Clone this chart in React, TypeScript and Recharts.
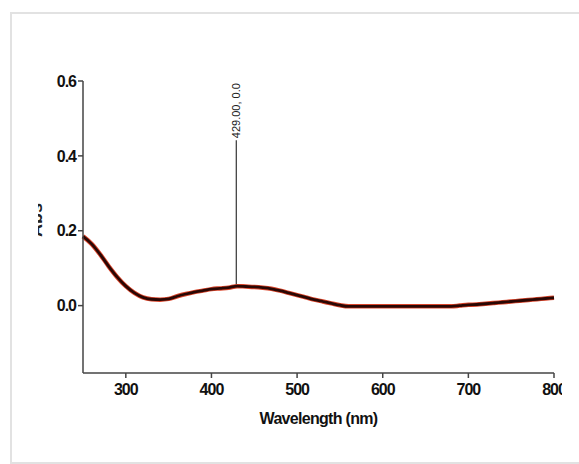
import {
  LineChart,
  Line,
  XAxis,
  YAxis,
  ReferenceLine,
} from "recharts";

// Absorbance spectrum (nm -> Abs)
const WAVELENGTHS = [
  250, 260, 270, 280, 290, 300, 310, 320, 330, 340, 350, 360, 370, 380, 390,
  400, 410, 420, 430, 440, 450, 460, 470, 480, 490, 500, 510, 520, 530, 540,
  550, 560, 570, 580, 590, 600, 610, 620, 630, 640, 650, 660, 670, 680, 690,
  700, 710, 720, 730, 740, 750, 760, 770, 780, 790, 800,
];
const ABSORBANCE = [
  0.185, 0.165, 0.137, 0.105, 0.076, 0.052, 0.034, 0.022, 0.017, 0.016, 0.018,
  0.025, 0.031, 0.036, 0.04, 0.044, 0.046, 0.048, 0.052, 0.051, 0.05, 0.048,
  0.045, 0.04, 0.034, 0.028, 0.022, 0.016, 0.011, 0.006, 0.001, -0.002,
  -0.002, -0.002, -0.002, -0.002, -0.002, -0.002, -0.002, -0.002, -0.002,
  -0.002, -0.002, -0.002, 0.0, 0.002, 0.003, 0.005, 0.007, 0.009, 0.011,
  0.013, 0.015, 0.017, 0.019, 0.021,
];
const X_TICKS = [300, 400, 500, 600, 700, 800];
const Y_TICKS = [0, 0.2, 0.4, 0.6];

const PEAK_X = 429;
const PEAK_Y = 0.052;
const PEAK_TOP = 0.442;
const PEAK_LABEL = "429.00, 0.0";

const data = WAVELENGTHS.map((w, i) => ({ w, abs: ABSORBANCE[i] }));

const FONT = '"Liberation Sans", Arial, sans-serif';

function PeakLabel(props: any) {
  const vb = props.viewBox || {};
  const x = vb.x ?? 0;
  const y = vb.y ?? 0;
  return (
    <text
      x={x}
      y={y - 2}
      transform={`rotate(-90 ${x} ${y - 2})`}
      textAnchor="start"
      dominantBaseline="central"
      fontFamily={FONT}
      fontSize={11}
      fill="#222"
    >
      {PEAK_LABEL}
    </text>
  );
}

function YLabel() {
  // the y title is mostly cut off in the scan, only a sliver shows
  return (
    <g>
      <defs>
        <clipPath id="ylab-clip">
          <rect x={38} y={200} width={5} height={40} />
        </clipPath>
      </defs>
      <g clipPath="url(#ylab-clip)">
        <text
          transform="translate(42 220) rotate(-90)"
          x={0}
          y={0}
          textAnchor="middle"
          fontFamily={FONT}
          fontWeight="bold"
          fontSize={18}
          fill="#222"
        >
          Abs
        </text>
      </g>
    </g>
  );
}

export default function App() {
  return (
    <div
      style={{
        position: "fixed",
        left: 0,
        top: 0,
        width: 579,
        height: 464,
        background: "#fff",
        overflow: "hidden",
      }}
    >
      <div
        style={{
          position: "absolute",
          left: 10,
          top: 12,
          width: 600,
          height: 448,
          border: "2px solid #e2e2e2",
        }}
      />
      <div
        style={{
          position: "absolute",
          left: 0,
          top: 0,
          width: 562,
          height: 464,
          overflow: "hidden",
        }}
      >
        <LineChart
          width={579}
          height={464}
          data={data}
          margin={{ top: 81, right: 25, bottom: 31, left: 23 }}
          style={{ fontFamily: FONT }}
        >
          <XAxis
            dataKey="w"
            type="number"
            domain={[250, 800]}
            ticks={X_TICKS}
            height={60}
            stroke="#444"
            strokeWidth={1.5}
            tickSize={5}
            tick={{
              fill: "#111",
              fontSize: 16,
              fontWeight: "bold",
              letterSpacing: -1,
              dy: 4,
            }}
            label={{
              value: "Wavelength (nm)",
              position: "insideBottom",
              offset: 9,
              fill: "#111",
              fontSize: 16,
              fontWeight: "bold",
              letterSpacing: -0.7,
            }}
          />
          <YAxis
            type="number"
            domain={[-0.18, 0.6]}
            ticks={Y_TICKS}
            width={60}
            stroke="#444"
            strokeWidth={1.5}
            tickSize={5}
            tickFormatter={(v: number) => v.toFixed(1)}
            tick={{
              fill: "#111",
              fontSize: 16,
              fontWeight: "bold",
              letterSpacing: -1,
            }}
            label={<YLabel />}
          />
          <ReferenceLine
            segment={[
              { x: PEAK_X, y: PEAK_Y },
              { x: PEAK_X, y: PEAK_TOP },
            ]}
            stroke="#333"
            strokeWidth={1.2}
            label={<PeakLabel />}
          />
          <Line
            type="monotone"
            dataKey="abs"
            stroke="#d9442a"
            strokeWidth={4.5}
            dot={false}
            isAnimationActive={false}
          />
          <Line
            type="monotone"
            dataKey="abs"
            stroke="#2a0704"
            strokeWidth={2.8}
            dot={false}
            isAnimationActive={false}
          />
        </LineChart>
      </div>
    </div>
  );
}
